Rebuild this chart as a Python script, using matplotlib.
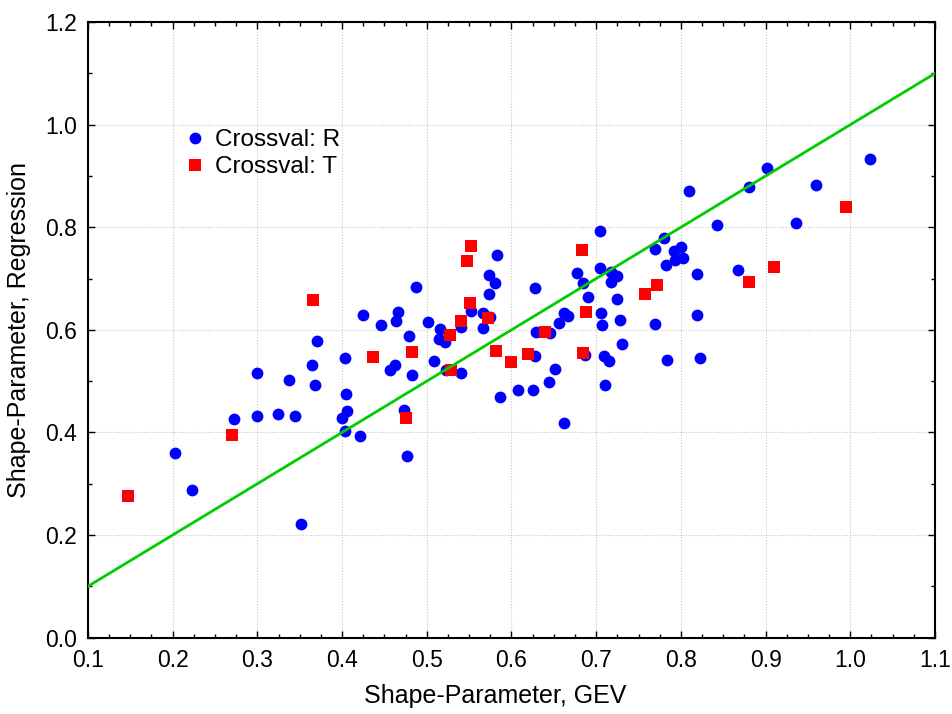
import matplotlib
matplotlib.use("Agg")
import matplotlib.pyplot as plt
from matplotlib.ticker import MultipleLocator, FormatStrFormatter

# Crossval: R
r_gev = [0.203, 0.223, 0.272, 0.300, 0.300, 0.324, 0.337, 0.344, 0.351, 0.365,
         0.370, 0.368, 0.403, 0.405, 0.406, 0.400, 0.404, 0.421, 0.425, 0.446,
         0.466, 0.464, 0.487, 0.479, 0.463, 0.457, 0.482, 0.473, 0.477, 0.501,
         0.508, 0.516, 0.514, 0.522, 0.523, 0.540, 0.540, 0.552, 0.566, 0.566,
         0.575, 0.573, 0.581, 0.574, 0.583, 0.586, 0.628, 0.608, 0.626, 0.629,
         0.645, 0.628, 0.656, 0.662, 0.667, 0.651, 0.644, 0.662, 0.677, 0.685,
         0.690, 0.687, 0.704, 0.704, 0.718, 0.724, 0.717, 0.724, 0.706, 0.707,
         0.728, 0.709, 0.715, 0.730, 0.710, 0.770, 0.780, 0.782, 0.792, 0.800,
         0.803, 0.793, 0.770, 0.784, 0.810, 0.902, 0.881, 0.960, 0.843, 0.936,
         0.819, 0.868, 0.819, 0.822, 1.023]
r_reg = [0.359, 0.287, 0.426, 0.516, 0.433, 0.436, 0.503, 0.433, 0.222, 0.531,
         0.579, 0.493, 0.546, 0.475, 0.441, 0.429, 0.402, 0.393, 0.629, 0.609,
         0.635, 0.617, 0.683, 0.589, 0.532, 0.522, 0.512, 0.444, 0.355, 0.615,
         0.540, 0.602, 0.583, 0.576, 0.522, 0.515, 0.606, 0.637, 0.632, 0.603,
         0.626, 0.669, 0.691, 0.707, 0.745, 0.470, 0.681, 0.482, 0.483, 0.595,
         0.594, 0.549, 0.614, 0.633, 0.627, 0.523, 0.498, 0.419, 0.710, 0.691,
         0.665, 0.551, 0.720, 0.793, 0.713, 0.705, 0.693, 0.660, 0.632, 0.609,
         0.620, 0.549, 0.539, 0.572, 0.493, 0.757, 0.780, 0.727, 0.754, 0.762,
         0.741, 0.737, 0.611, 0.541, 0.871, 0.915, 0.879, 0.882, 0.804, 0.809,
         0.709, 0.717, 0.629, 0.546, 0.934]

# Crossval: T
t_gev = [0.147, 0.270, 0.366, 0.437, 0.475, 0.482, 0.528, 0.529, 0.540, 0.547,
         0.551, 0.552, 0.572, 0.582, 0.600, 0.620, 0.640, 0.683, 0.685, 0.688,
         0.758, 0.772, 0.881, 0.910, 0.995]
t_reg = [0.277, 0.395, 0.658, 0.548, 0.429, 0.556, 0.590, 0.522, 0.618, 0.734,
         0.652, 0.763, 0.623, 0.559, 0.537, 0.552, 0.596, 0.756, 0.555, 0.634,
         0.670, 0.687, 0.693, 0.722, 0.839]

# 1:1 line
line_x = [0.1, 1.1]
line_y = [0.1, 1.1]

plt.rcParams['font.family'] = ['Liberation Sans', 'DejaVu Sans']

fig = plt.figure(figsize=(9.53, 7.14), dpi=100)
ax = fig.add_axes([0.0923, 0.107, 0.8888, 0.862])

ax.plot(r_gev, r_reg, 'o', color='#0000ff', markersize=8.5, markeredgewidth=0,
        label='Crossval: R', zorder=3)
ax.plot(t_gev, t_reg, 's', color='#ff0000', markersize=8, markeredgewidth=0,
        label='Crossval: T', zorder=3)
ax.plot(line_x, line_y, color='#00cc00', linewidth=2, zorder=4)

ax.set_xlim(0.1, 1.1)
ax.set_ylim(0.0, 1.2)
ax.xaxis.set_major_locator(MultipleLocator(0.1))
ax.xaxis.set_minor_locator(MultipleLocator(0.025))
ax.yaxis.set_major_locator(MultipleLocator(0.2))
ax.yaxis.set_minor_locator(MultipleLocator(0.1))
ax.xaxis.set_major_formatter(FormatStrFormatter('%.1f'))
ax.yaxis.set_major_formatter(FormatStrFormatter('%.1f'))
ax.tick_params(which='both', direction='in', top=True, right=True,
               labelsize=16.5, width=1)
ax.tick_params(which='major', length=5, pad=8)
ax.tick_params(which='minor', length=3)
ax.grid(True, which='major', color='#c8c8c8', linestyle=(0, (1, 1.5)), linewidth=0.8)
ax.set_axisbelow(True)
for s in ax.spines.values():
    s.set_linewidth(1.5)

ax.set_xlabel('Shape-Parameter, GEV', fontsize=18, labelpad=9, x=0.481)
ax.set_ylabel('Shape-Parameter, Regression', fontsize=18, labelpad=10)

ax.legend(loc='upper left', bbox_to_anchor=(0.1, 0.842), frameon=False,
          fontsize=17.5, handletextpad=0.35, labelspacing=0.22, handlelength=1.0,
          borderaxespad=0)

fig.savefig('out.png', dpi=100)
